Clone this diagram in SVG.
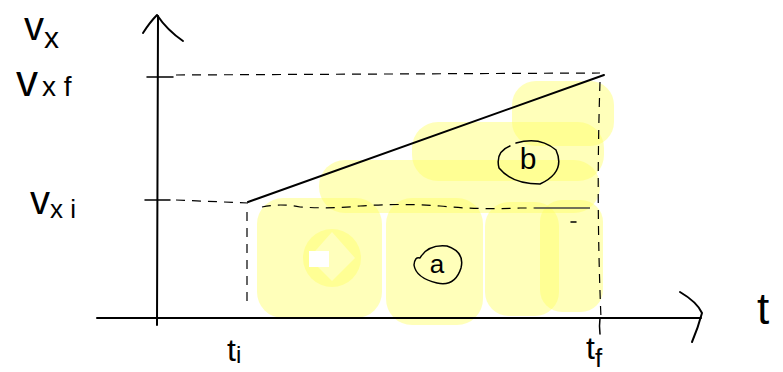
<svg xmlns="http://www.w3.org/2000/svg" width="783" height="372" viewBox="0 0 783 372">
<style>
.hl{fill:#FFFF66;fill-opacity:0.45}
.ink{fill:none;stroke:#000;stroke-width:2;stroke-linecap:round;stroke-linejoin:round}
.thin{fill:none;stroke:#000;stroke-width:1.5;stroke-linecap:round}
.dash{fill:none;stroke:#000;stroke-width:1.2;stroke-dasharray:9 7}
.lbl{font-family:"Liberation Sans",Arial,sans-serif;fill:#000}
</style>
<rect width="783" height="372" fill="#fff"/>
<g id="highlights">
<rect class="hl" x="257" y="198" width="125" height="120" rx="26"/>
<rect class="hl" x="386" y="198" width="97" height="127" rx="26"/>
<rect class="hl" x="485" y="202" width="74" height="114" rx="24"/>
<rect class="hl" x="540" y="200" width="63" height="112" rx="22"/>
<rect class="hl" x="319" y="160" width="281" height="53" rx="26"/>
<rect class="hl" x="412" y="122" width="192" height="59" rx="26"/>
<rect class="hl" x="512" y="81" width="102" height="65" rx="24"/>
<circle class="hl" cx="332" cy="258" r="29"/>
<polygon points="332,232 355,258 332,281 309,258" fill="#FFFFBC"/>
<rect x="309" y="251" width="20" height="16" fill="#fff"/>
</g>
<g id="axes">
<path class="ink" d="M157,325 L158,16"/>
<path class="ink" d="M143,33 Q150,22 157,15 Q167,30 183,41"/>
<path class="ink" d="M97,318 L701,318"/>
<path class="ink" d="M680,292 Q697,302 702,313 Q698,328 692,342"/>
<path class="thin" d="M147,77 L173,77"/>
<path class="thin" d="M145,200 L170,200"/>
</g>
<g id="connectors">
<path class="dash" d="M176,75 L600,73"/>
<path class="dash" d="M176,200 L248,203"/>
<path class="dash" d="M600,82 Q596,200 601,318"/>
<path class="dash" d="M247,212 L247,305"/>
<path class="dash" d="M262,207 Q280,203 300,207 Q330,209 360,206 Q400,203 440,206 Q480,210 520,208 L535,208"/>
<path d="M535,208 L590,208" stroke="#444" stroke-width="1.5" fill="none"/>
<path class="thin" d="M571,222 L576,222"/>
<path class="ink" d="M248,202 L604,75"/>
<path class="thin" d="M600,318 Q599,326 600,334"/>
</g>
<g id="label-a">
<path class="thin" d="M420,258 Q428,244 447,246 Q465,252 461,268 Q455,287 437,283 Q416,278 414,265 Q415,256 420,258"/>
<text class="lbl" x="437" y="273" font-size="26" text-anchor="middle">a</text>
</g>
<g id="label-b">
<path class="thin" d="M516,143 Q540,136 556,150 Q566,172 540,184 Q512,184 499,168 Q495,152 510,146"/>
<text class="lbl" x="528" y="169" font-size="30" text-anchor="middle">b</text>
</g>
<g id="labels" class="lbl">
<text x="24" y="40" font-size="40">v<tspan font-size="30" dy="8">x</tspan></text>
<text x="16" y="96" font-size="44">v<tspan font-size="28" dx="4" dy="0">x f</tspan></text>
<text x="30" y="214" font-size="40">v<tspan font-size="26" dy="4">x i</tspan></text>
<text x="227" y="361" font-size="32">t<tspan font-size="24" dy="2">i</tspan></text>
<text x="586" y="359" font-size="32">t<tspan font-size="26" dy="8">f</tspan></text>
<text x="757" y="324" font-size="44">t</text>
</g>
</svg>
